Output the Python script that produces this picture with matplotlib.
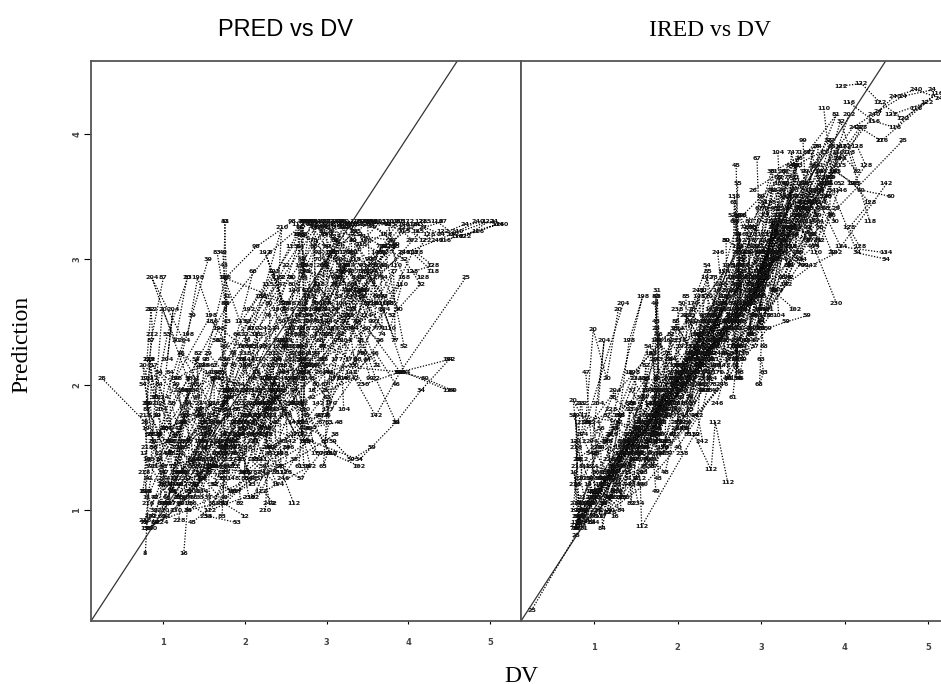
import matplotlib
matplotlib.use("Agg")
import matplotlib.pyplot as plt

# values, one row per subject
SUBJECT_IDS = [25, 8, 16, 240, 24, 60, 34, 102, 130, 230, 31, 45, 72, 118, 210, 22, 53, 87, 140, 190,
               12, 39, 66, 95, 112, 155, 202, 28, 47, 76, 124, 168, 215, 19, 58, 83, 136, 177, 221, 33,
               41, 69, 91, 108, 146, 185, 233, 14, 51, 79, 127, 160, 206, 36, 62, 98, 115, 172, 225, 27,
               11, 17, 23, 29, 35, 43, 49, 55, 61, 67, 73, 81, 89, 93, 99, 104, 110, 116, 122, 128,
               134, 142, 148, 154, 162, 170, 178, 186, 192, 198, 204, 212, 218, 224, 228, 234, 238, 242, 246, 13,
               15, 18, 21, 26, 30, 32, 37, 38, 40, 42, 44, 46, 48, 50, 52, 54, 56, 57, 59, 63,
               112, 20, 64, 65, 68, 70, 71, 74, 75, 77, 78, 80, 82, 84, 85, 86]
DV = [
    [0.25, 0.78, 1.10, 1.65, 2.40, 3.90, 4.70],
    [0.78, 0.82, 0.95, 1.30, 1.75, 2.30, 2.75],
    [1.25, 1.30, 1.45, 1.80, 2.15, 2.65, 3.05],
    [5.15, 4.85, 4.60, 4.35, 3.95, 3.30, 2.70],
    [5.05, 4.70, 4.40, 4.10, 3.70, 3.10, 2.50],
    [4.55, 4.20, 3.90, 3.50, 2.95, 2.40, 1.75],
    [4.50, 4.15, 3.85, 3.40, 2.80, 2.05, 1.30],
    [3.40, 3.05, 2.70, 2.25, 1.75, 1.20, 0.85],
    [3.05, 2.72, 2.45, 2.05, 1.60, 1.15, 0.80],
    [3.90, 3.45, 2.95, 2.72, 2.25, 1.75, 1.00],
    [1.75, 1.78, 1.72, 1.76, 1.40, 1.05, 0.80],
    [2.70, 2.72, 2.68, 2.75, 2.30, 1.85, 1.35],
    [2.35, 2.05, 1.78, 1.45, 1.15, 0.90, 0.76],
    [4.30, 4.05, 3.75, 3.35, 2.90, 2.72, 2.20],
    [2.25, 2.45, 2.10, 1.75, 1.50, 1.00, 0.85],
    [3.85, 3.60, 3.30, 3.15, 2.85, 2.50, 2.00],
    [1.30, 1.05, 0.90, 0.85, 1.20, 1.55, 1.90],
    [1.00, 0.85, 0.80, 1.10, 1.40, 1.75, 2.15],
    [3.60, 3.25, 2.90, 2.60, 2.20, 1.85, 1.45],
    [3.20, 3.00, 2.74, 2.40, 2.00, 1.62, 1.22],
    [0.85, 0.80, 0.95, 1.20, 1.50, 1.75, 2.00],
    [1.55, 1.35, 1.15, 0.95, 0.82, 0.78, 0.88],
    [2.10, 1.90, 1.78, 1.50, 1.25, 1.05, 0.90],
    [2.80, 2.72, 2.55, 2.30, 1.95, 1.60, 1.30],
    [2.65, 2.70, 2.40, 2.15, 1.80, 1.52, 1.15],
    [3.55, 3.35, 3.05, 2.78, 2.50, 2.20, 1.95],
    [4.05, 3.80, 3.52, 3.20, 2.95, 2.70, 2.35],
    [1.10, 1.25, 1.48, 1.74, 1.95, 2.30, 2.62],
    [0.90, 1.02, 1.18, 1.42, 1.76, 2.08, 2.45],
    [1.68, 1.76, 1.85, 2.02, 2.28, 2.55, 2.95],
    [2.95, 3.10, 3.28, 3.48, 2.72, 2.18, 1.58],
    [3.30, 3.50, 3.72, 3.95, 2.74, 2.05, 1.70],
    [4.20, 3.95, 3.65, 3.42, 3.12, 2.88, 2.60],
    [0.75, 0.80, 0.78, 0.82, 0.76, 0.84, 0.92],
    [1.15, 1.22, 1.10, 1.32, 1.05, 1.40, 1.48],
    [1.72, 1.74, 1.78, 1.80, 1.70, 1.76, 1.66],
    [2.72, 2.70, 2.74, 2.76, 2.68, 2.66, 2.78],
    [3.02, 3.12, 2.98, 3.22, 3.08, 2.92, 3.30],
    [2.20, 2.32, 2.10, 2.42, 2.00, 2.52, 1.92],
    [1.45, 1.58, 1.35, 1.65, 1.28, 1.82, 1.95],
    [3.70, 3.45, 3.18, 2.82, 2.48, 2.12, 1.82],
    [2.60, 2.35, 2.08, 1.76, 1.48, 1.22, 0.98],
    [3.00, 2.72, 2.40, 2.12, 1.88, 1.56, 1.20],
    [2.52, 2.76, 2.95, 3.15, 3.38, 2.70, 2.25],
    [3.95, 3.62, 3.38, 3.05, 2.72, 2.44, 2.02],
    [4.12, 3.88, 3.48, 3.08, 2.68, 2.28, 1.78],
    [3.22, 2.92, 2.62, 2.32, 2.02, 1.72, 1.42],
    [0.95, 1.12, 1.30, 1.55, 1.75, 2.02, 2.38],
    [0.80, 0.88, 1.00, 1.18, 1.38, 1.60, 1.85],
    [1.85, 1.62, 1.42, 1.20, 1.02, 0.86, 0.78],
    [2.40, 2.15, 1.92, 1.72, 1.52, 1.28, 1.08],
    [3.48, 3.18, 2.85, 2.72, 2.35, 2.02, 1.66],
    [2.85, 2.62, 2.38, 2.12, 1.90, 1.68, 1.38],
    [0.86, 1.00, 1.36, 1.78, 2.22, 2.72, 3.25],
    [1.06, 1.26, 1.62, 2.04, 2.46, 2.86, 3.42],
    [1.38, 1.52, 1.76, 2.14, 2.58, 2.96, 3.58],
    [1.95, 2.28, 2.58, 2.74, 3.04, 3.36, 3.78],
    [4.00, 3.78, 3.40, 3.02, 2.66, 2.30, 1.88],
    [3.76, 3.56, 3.26, 2.94, 2.56, 2.26, 1.74],
    [4.42, 4.18, 3.92, 3.62, 3.20, 2.78, 2.32],
    [0.80, 1.25, 0.90, 1.40, 1.05, 1.60],
    [0.76, 1.10, 1.50, 0.88, 1.30, 1.85],
    [0.84, 0.79, 1.18, 1.62, 1.35, 1.02],
    [0.92, 1.45, 1.15, 1.72, 2.05, 1.55],
    [1.38, 1.78, 1.22, 1.95, 1.60, 2.15],
    [1.76, 1.74, 1.78, 1.72, 1.75, 1.77],
    [1.73, 1.77, 1.75, 1.79, 1.71, 1.74],
    [2.72, 2.70, 2.74, 2.71, 2.69, 2.73],
    [2.68, 2.75, 2.71, 2.73, 2.70, 2.66],
    [2.95, 2.97, 2.93, 2.96, 2.98, 2.94],
    [2.70, 3.05, 3.40, 3.75, 3.20, 2.85],
    [2.80, 3.15, 3.55, 3.90, 3.35, 2.95],
    [2.65, 3.00, 3.32, 3.68, 3.85, 3.50],
    [2.75, 3.10, 2.90, 3.45, 3.70, 3.25],
    [3.50, 3.52, 3.48, 3.55, 3.46, 3.53],
    [3.20, 3.22, 3.18, 3.24, 3.19, 3.21],
    [3.75, 3.85, 3.60, 3.92, 3.78, 3.66],
    [4.05, 4.35, 4.60, 4.85, 5.10, 4.45],
    [3.95, 4.20, 4.42, 4.70, 4.98, 4.55],
    [4.15, 4.25, 4.10, 4.30, 4.05, 4.18],
    [4.50, 3.95, 3.70, 3.25, 2.85, 2.40],
    [4.50, 3.90, 3.60, 3.30, 2.90, 2.55],
    [1.85, 2.25, 1.65, 2.45, 2.05, 2.60],
    [2.00, 2.40, 1.82, 2.55, 2.15, 2.85],
    [2.30, 1.90, 2.60, 2.10, 2.80, 2.50],
    [2.18, 2.62, 2.35, 2.88, 2.48, 3.05],
    [2.50, 2.95, 2.25, 3.10, 2.65, 3.30],
    [1.98, 1.60, 2.32, 1.75, 2.55, 2.20],
    [2.05, 2.35, 2.58, 2.25, 2.75, 2.40],
    [1.30, 1.42, 1.58, 1.15, 1.48, 1.68],
    [1.05, 1.12, 0.98, 1.25, 0.86, 1.35],
    [0.85, 0.87, 0.83, 0.86, 0.84, 0.88],
    [0.78, 0.80, 0.77, 0.79, 0.81, 0.78],
    [1.00, 1.02, 0.98, 1.01, 1.03, 0.99],
    [1.20, 1.22, 1.18, 1.24, 1.21, 1.19],
    [1.50, 1.46, 1.52, 1.55, 1.48, 1.53],
    [2.00, 2.03, 1.97, 2.02, 1.99, 2.05],
    [2.25, 2.28, 2.22, 2.27, 2.24, 2.30],
    [2.48, 2.52, 2.46, 2.50, 2.53, 2.47],
    [1.60, 1.88, 1.42, 2.08, 1.70, 2.28],
    [1.12, 1.58, 0.94, 1.82, 1.28, 2.02],
    [3.05, 3.38, 2.82, 3.58, 3.15, 2.68],
    [3.28, 2.98, 3.42, 2.88, 3.62, 3.08],
    [2.90, 3.25, 3.65, 3.00, 3.45, 2.78],
    [3.88, 3.62, 3.35, 3.12, 2.86, 2.58],
    [3.40, 3.70, 3.95, 4.15, 3.80, 3.50],
    [1.55, 1.35, 1.72, 1.15, 1.90, 1.45],
    [0.90, 1.30, 1.68, 2.10, 2.60, 3.10],
    [0.82, 1.20, 1.60, 2.00, 2.45, 2.90],
    [1.10, 1.50, 1.95, 2.38, 2.82, 3.35],
    [1.40, 1.80, 2.20, 2.60, 3.00, 3.50],
    [2.10, 2.45, 2.85, 3.25, 3.60, 3.85],
    [1.00, 1.40, 1.85, 2.30, 2.75, 3.15],
    [1.65, 2.05, 2.45, 2.90, 3.30, 3.70],
    [2.65, 2.90, 3.15, 3.45, 3.72, 3.95],
    [0.75, 0.95, 1.25, 1.65, 1.95, 2.35],
    [0.88, 1.08, 1.32, 1.52, 1.82, 2.12],
    [1.62, 1.92, 2.18, 2.42, 2.68, 2.92],
    [3.55, 3.30, 3.08, 2.78, 2.52, 2.22],
    [3.00, 3.03, 2.98, 3.01, 2.96, 3.04],
    [2.60, 2.45, 2.40, 2.20, 1.57, 1.55],
    [1.29, 1.15, 0.99, 0.90, 0.75, 0.86],
    [2.68, 3.00, 3.35, 3.70, 3.10, 2.78],
    [2.85, 3.20, 3.55, 3.85, 3.42, 3.02],
    [3.15, 2.72, 3.62, 2.92, 3.28, 3.78],
    [2.75, 3.30, 3.80, 3.05, 3.48, 2.90],
    [3.45, 3.10, 2.80, 3.68, 3.22, 2.95],
    [3.00, 3.02, 3.34, 3.36, 3.66, 3.68],
    [2.85, 2.87, 3.12, 3.14, 3.40, 3.42],
    [3.58, 3.60, 3.82, 3.84, 3.30, 3.32],
    [1.85, 1.87, 2.15, 2.17, 2.42, 2.44],
    [2.58, 2.60, 2.85, 2.87, 2.30, 2.32],
    [1.42, 1.44, 1.62, 1.64, 1.92, 1.94],
    [1.08, 1.10, 1.30, 1.32, 0.95, 0.97],
    [2.10, 2.12, 2.36, 2.38, 1.98, 2.00],
    [0.82, 1.02, 1.24, 1.46, 1.68, 1.90],
    [2.02, 2.24, 2.46, 2.68, 2.90, 3.12],
    [3.22, 3.44, 3.66, 3.88, 4.02, 4.22],
]
PRED = [
    [2.05, 1.70, 1.45, 1.80, 2.20, 2.10, 2.85],
    [0.65, 1.15, 1.60, 2.05, 2.60, 3.05, 3.30],
    [0.65, 1.05, 1.40, 1.75, 2.10, 2.55, 3.05],
    [3.28, 3.30, 3.22, 3.15, 3.05, 2.70, 2.30],
    [3.30, 3.28, 3.20, 3.28, 3.10, 2.60, 2.10],
    [1.95, 2.05, 2.10, 2.45, 2.20, 1.90, 1.50],
    [2.20, 1.95, 1.70, 1.40, 1.55, 1.25, 1.00],
    [1.35, 1.45, 1.85, 2.05, 1.60, 1.30, 0.95],
    [1.45, 1.80, 2.35, 1.75, 1.35, 1.00, 0.85],
    [2.10, 2.00, 2.50, 2.90, 2.30, 1.50, 1.00],
    [3.30, 2.70, 2.10, 1.40, 1.20, 0.95, 0.85],
    [3.30, 2.85, 2.30, 1.75, 1.45, 1.15, 0.90],
    [1.05, 1.30, 1.75, 1.55, 1.25, 1.10, 0.90],
    [2.90, 3.05, 2.65, 3.00, 2.80, 2.45, 1.85],
    [1.00, 3.25, 2.45, 1.95, 1.70, 1.20, 0.85],
    [1.70, 2.05, 2.60, 3.00, 3.30, 2.95, 2.40],
    [2.85, 2.40, 1.90, 1.40, 1.10, 0.95, 0.90],
    [2.85, 2.35, 1.80, 1.45, 1.20, 1.05, 1.30],
    [3.30, 3.25, 3.30, 2.75, 2.30, 1.95, 1.55],
    [3.30, 3.20, 3.30, 2.60, 2.15, 1.70, 1.30],
    [2.60, 2.20, 1.85, 1.50, 1.25, 1.05, 0.95],
    [3.00, 2.55, 2.05, 1.60, 1.35, 1.15, 1.00],
    [2.90, 2.40, 1.90, 1.55, 1.30, 1.10, 0.90],
    [3.30, 2.95, 2.45, 2.05, 1.65, 1.40, 1.15],
    [3.28, 1.60, 2.85, 2.40, 1.95, 1.60, 1.25],
    [3.30, 3.22, 3.05, 2.70, 2.30, 1.95, 1.70],
    [3.15, 3.30, 3.28, 3.25, 2.95, 2.60, 2.25],
    [1.15, 1.50, 1.70, 1.30, 1.60, 1.95, 2.30],
    [1.10, 1.30, 1.65, 1.90, 2.15, 2.45, 2.80],
    [1.50, 1.95, 2.15, 2.35, 2.55, 2.85, 3.20],
    [3.30, 3.18, 2.95, 2.55, 2.15, 1.75, 1.35],
    [3.28, 3.30, 3.20, 2.85, 1.55, 1.70, 1.35],
    [3.30, 3.22, 3.30, 3.12, 2.80, 2.45, 2.20],
    [1.15, 1.40, 1.65, 1.85, 2.05, 2.20, 1.75],
    [1.30, 1.55, 1.85, 2.05, 1.05, 2.20, 1.65],
    [0.95, 1.25, 1.60, 1.95, 2.35, 2.65, 3.05],
    [1.35, 1.70, 2.10, 2.55, 2.95, 3.20, 3.30],
    [1.80, 2.20, 2.65, 3.05, 3.30, 2.40, 2.75],
    [1.40, 1.75, 1.55, 2.00, 1.30, 2.35, 1.60],
    [1.10, 1.75, 1.35, 2.10, 1.55, 1.90, 2.20],
    [2.95, 2.75, 2.40, 2.05, 1.80, 1.55, 1.35],
    [2.05, 1.85, 1.60, 1.45, 1.25, 1.05, 0.95],
    [2.55, 2.20, 1.95, 1.70, 1.55, 1.30, 1.05],
    [2.60, 2.95, 3.25, 3.30, 3.28, 2.65, 2.05],
    [3.28, 3.05, 2.85, 2.50, 2.20, 1.95, 1.60],
    [3.22, 3.30, 2.90, 2.45, 2.10, 1.80, 1.50],
    [2.95, 2.60, 2.25, 2.00, 1.75, 1.55, 1.30],
    [1.40, 1.15, 1.85, 2.10, 1.85, 2.15, 2.45],
    [1.85, 1.55, 1.30, 1.10, 1.20, 1.35, 1.50],
    [1.60, 1.35, 1.45, 1.30, 1.05, 0.95, 0.90],
    [2.30, 1.95, 1.70, 1.85, 1.50, 1.20, 1.05],
    [3.15, 2.90, 2.60, 2.25, 1.95, 1.65, 1.45],
    [2.75, 2.50, 2.20, 1.85, 1.70, 1.45, 1.15],
    [1.60, 1.20, 1.05, 2.20, 2.70, 3.30, 3.28],
    [1.45, 1.75, 2.15, 2.50, 2.85, 3.25, 3.30],
    [2.00, 2.20, 2.85, 3.10, 3.30, 3.26, 3.30],
    [2.50, 2.80, 3.10, 3.30, 3.25, 3.30, 3.28],
    [3.30, 3.10, 2.75, 2.40, 2.05, 1.75, 1.40],
    [3.10, 2.90, 2.55, 2.20, 1.85, 1.60, 1.30],
    [3.30, 3.25, 3.05, 2.85, 2.50, 2.15, 1.85],
    [1.10, 1.70, 1.35, 2.05, 1.55, 1.85],
    [1.45, 1.05, 1.60, 2.15, 1.25, 1.70],
    [2.20, 1.85, 1.20, 1.35, 1.95, 1.65],
    [1.75, 1.25, 2.00, 1.50, 1.85, 2.25],
    [1.10, 1.95, 2.25, 1.40, 1.05, 1.75],
    [3.30, 2.95, 2.50, 2.20, 1.80, 1.35],
    [3.05, 2.65, 2.30, 1.90, 1.55, 1.10],
    [3.30, 3.00, 2.60, 2.20, 1.85, 1.55],
    [3.25, 2.75, 2.40, 2.05, 1.70, 1.35],
    [3.30, 2.95, 2.60, 2.30, 2.00, 1.70],
    [3.30, 3.30, 3.30, 3.28, 3.30, 3.26],
    [3.28, 3.30, 3.26, 3.30, 3.05, 3.22],
    [3.20, 3.10, 3.15, 3.05, 3.12, 3.30],
    [2.90, 2.85, 3.05, 2.95, 2.70, 2.75],
    [3.30, 3.00, 2.75, 2.50, 2.25, 2.05],
    [3.28, 2.90, 2.65, 2.35, 2.05, 1.80],
    [3.30, 2.95, 2.65, 2.80, 2.45, 2.65],
    [3.28, 3.30, 3.18, 3.22, 3.28, 3.15],
    [3.25, 3.15, 3.22, 3.18, 3.30, 3.20],
    [3.30, 3.20, 3.05, 2.95, 2.90, 2.85],
    [1.95, 2.10, 2.60, 2.45, 2.15, 1.80],
    [2.20, 2.10, 1.75, 2.10, 1.85, 1.55],
    [1.25, 1.85, 2.10, 1.45, 2.20, 1.70],
    [1.75, 1.20, 1.55, 2.05, 1.40, 2.25],
    [1.50, 1.95, 1.85, 1.10, 1.35, 2.15],
    [2.20, 1.60, 1.95, 1.45, 2.35, 1.85],
    [1.30, 1.75, 1.65, 2.05, 2.45, 2.20],
    [2.30, 2.50, 1.80, 2.85, 2.65, 2.70],
    [2.60, 2.90, 2.40, 3.05, 2.15, 2.35],
    [2.40, 2.85, 2.55, 2.05, 2.15, 2.45],
    [2.20, 2.60, 1.80, 2.35, 2.85, 1.95],
    [2.60, 2.40, 2.20, 2.05, 1.85, 1.60],
    [1.75, 1.50, 1.30, 1.15, 1.05, 0.92],
    [1.90, 1.65, 1.45, 1.25, 1.05, 0.90],
    [1.95, 1.70, 1.50, 1.30, 1.10, 0.92],
    [2.15, 1.85, 1.60, 1.35, 1.15, 0.95],
    [2.25, 1.95, 1.70, 1.50, 1.30, 1.10],
    [2.45, 2.15, 1.85, 1.60, 1.30, 1.05],
    [2.65, 2.30, 2.05, 1.75, 1.50, 1.25],
    [1.55, 1.35, 1.80, 1.20, 2.05, 1.65],
    [1.35, 1.85, 1.60, 1.15, 1.75, 1.95],
    [2.45, 2.20, 1.95, 2.65, 2.85, 2.10],
    [2.55, 1.95, 2.35, 2.80, 2.15, 3.05],
    [2.10, 2.55, 2.35, 1.75, 2.70, 2.50],
    [2.60, 2.95, 2.15, 3.15, 2.65, 2.85],
    [3.20, 3.10, 3.00, 2.80, 2.55, 2.65],
    [1.10, 1.40, 1.25, 1.60, 1.50, 1.80],
    [0.90, 1.00, 1.05, 1.25, 1.40, 1.60],
    [1.25, 1.20, 1.35, 1.30, 1.55, 1.75],
    [1.55, 1.50, 1.60, 1.70, 1.90, 2.05],
    [1.75, 1.80, 1.85, 1.95, 2.10, 2.20],
    [2.05, 2.10, 2.15, 2.05, 2.25, 2.00],
    [1.35, 1.40, 1.45, 1.50, 1.65, 1.70],
    [2.35, 2.30, 2.50, 2.65, 2.80, 2.95],
    [2.40, 2.60, 2.70, 2.85, 3.05, 2.30],
    [2.00, 2.10, 1.95, 2.05, 2.00, 1.90],
    [1.50, 1.55, 1.55, 1.65, 1.55, 1.60],
    [1.20, 1.15, 1.25, 1.35, 1.25, 1.45],
    [1.50, 1.40, 1.55, 1.65, 1.50, 1.35],
    [1.90, 1.70, 1.55, 1.45, 1.35, 2.10],
    [1.05, 1.30, 1.45, 1.15, 1.00, 1.40],
    [2.85, 2.35, 2.60, 1.90, 2.15, 1.55],
    [3.10, 2.60, 2.45, 2.85, 3.15, 2.55],
    [3.30, 3.25, 2.95, 3.10, 2.75, 2.40],
    [2.85, 3.20, 2.70, 2.35, 3.05, 2.65],
    [2.50, 2.90, 3.15, 3.22, 2.65, 3.00],
    [3.18, 2.80, 3.28, 2.45, 2.95, 2.30],
    [3.30, 2.65, 3.22, 2.50, 3.10, 2.40],
    [3.15, 2.50, 3.05, 2.35, 2.90, 2.25],
    [3.00, 2.45, 2.90, 2.35, 3.25, 2.60],
    [2.25, 1.45, 2.40, 1.60, 2.15, 1.35],
    [2.80, 1.85, 3.10, 2.00, 2.65, 1.50],
    [2.25, 1.35, 2.05, 1.20, 1.85, 1.05],
    [2.10, 1.20, 1.95, 1.10, 2.00, 1.05],
    [2.30, 1.40, 2.05, 1.30, 2.20, 1.25],
    [1.60, 1.65, 1.70, 1.75, 1.70, 1.80],
    [1.85, 1.90, 1.80, 1.95, 2.00, 1.85],
    [3.30, 3.28, 3.30, 3.26, 3.30, 3.28],
]
IRED = [
    [0.20, 0.80, 1.05, 1.60, 2.30, 3.40, 3.95],
    [0.85, 1.00, 1.25, 1.55, 2.05, 2.50, 2.95],
    [0.95, 1.10, 1.40, 1.80, 2.20, 2.60, 3.05],
    [4.28, 4.35, 4.30, 4.15, 3.80, 3.30, 2.75],
    [4.35, 4.30, 4.18, 4.05, 3.70, 3.05, 2.60],
    [3.50, 3.55, 3.70, 3.30, 2.70, 2.35, 1.85],
    [3.00, 3.05, 3.55, 3.20, 2.60, 2.00, 1.40],
    [2.60, 2.80, 2.45, 2.20, 1.80, 1.25, 0.95],
    [2.85, 2.55, 2.30, 1.95, 1.70, 1.30, 0.90],
    [2.65, 3.40, 2.85, 2.20, 2.40, 1.95, 1.10],
    [2.75, 2.30, 1.70, 1.45, 1.25, 1.00, 0.85],
    [3.75, 3.20, 2.35, 2.05, 2.15, 1.80, 1.45],
    [2.10, 2.00, 1.80, 1.55, 1.25, 1.05, 0.85],
    [3.30, 3.85, 3.60, 3.10, 2.85, 3.10, 2.30],
    [2.20, 2.35, 2.05, 1.85, 1.60, 1.15, 1.00],
    [3.05, 3.45, 3.20, 3.00, 2.80, 2.40, 2.15],
    [1.45, 1.10, 1.00, 0.90, 1.30, 1.60, 1.90],
    [1.05, 0.95, 0.85, 1.20, 1.50, 1.85, 2.20],
    [3.55, 3.10, 2.70, 2.45, 2.10, 1.80, 1.45],
    [3.20, 3.05, 3.35, 2.55, 2.05, 1.65, 1.35],
    [1.05, 0.90, 1.10, 1.30, 1.55, 1.95, 2.05],
    [1.90, 1.35, 1.25, 1.05, 0.95, 0.85, 1.00],
    [2.10, 1.85, 2.40, 1.65, 1.30, 1.15, 1.05],
    [3.05, 2.55, 2.65, 2.25, 2.00, 1.70, 1.40],
    [2.50, 2.30, 2.55, 2.05, 1.85, 1.60, 1.25],
    [3.60, 3.25, 2.95, 2.85, 2.65, 2.25, 2.05],
    [4.15, 3.65, 3.50, 3.35, 3.10, 2.80, 2.50],
    [1.25, 1.35, 1.50, 2.45, 2.00, 2.15, 2.55],
    [2.10, 1.10, 1.30, 1.60, 1.75, 2.00, 2.35],
    [1.60, 1.75, 1.80, 1.95, 2.25, 2.65, 2.90],
    [2.80, 3.05, 3.50, 3.60, 2.55, 2.25, 1.50],
    [3.15, 3.40, 3.70, 3.90, 2.50, 2.10, 1.75],
    [4.05, 3.75, 3.55, 3.35, 3.00, 2.75, 2.50],
    [1.00, 1.40, 1.75, 0.95, 1.30, 1.00, 1.20],
    [1.55, 1.30, 1.05, 1.75, 1.25, 1.60, 1.45],
    [1.75, 2.70, 1.95, 1.60, 2.25, 1.55, 1.70],
    [2.30, 2.05, 3.20, 2.60, 3.50, 2.85, 2.25],
    [3.05, 3.20, 2.60, 3.35, 2.90, 2.70, 3.10],
    [2.30, 2.05, 2.55, 2.20, 1.70, 2.60, 1.85],
    [1.35, 1.60, 1.55, 1.85, 1.20, 1.90, 2.15],
    [3.75, 3.35, 3.05, 2.95, 2.35, 2.20, 1.70],
    [2.45, 2.25, 2.00, 1.65, 1.40, 1.30, 1.05],
    [2.95, 2.30, 2.50, 2.20, 1.75, 1.45, 1.10],
    [2.35, 2.90, 2.75, 3.25, 3.50, 2.50, 2.30],
    [3.55, 3.45, 3.20, 3.15, 2.95, 2.50, 2.15],
    [3.60, 3.70, 3.40, 3.05, 2.85, 2.15, 1.85],
    [3.30, 2.75, 2.50, 2.45, 2.15, 1.75, 1.55],
    [1.15, 1.05, 1.45, 1.45, 1.60, 2.05, 2.25],
    [0.95, 0.85, 1.15, 1.10, 1.55, 1.50, 1.75],
    [1.95, 1.50, 1.55, 1.10, 1.15, 0.95, 0.85],
    [2.25, 2.05, 1.75, 1.85, 1.40, 1.35, 1.20],
    [3.35, 3.05, 2.65, 2.95, 2.20, 2.10, 1.55],
    [2.70, 2.75, 2.20, 2.00, 2.05, 1.55, 1.45],
    [1.00, 0.95, 1.50, 1.70, 2.40, 2.55, 3.15],
    [1.25, 1.40, 1.75, 1.90, 2.30, 2.65, 3.35],
    [1.50, 1.70, 1.65, 2.25, 2.35, 3.05, 3.45],
    [1.85, 2.40, 2.70, 2.60, 2.85, 3.25, 3.60],
    [3.90, 3.60, 3.25, 3.20, 2.55, 2.40, 1.95],
    [3.65, 3.45, 3.40, 2.85, 2.70, 2.10, 1.60],
    [3.95, 4.05, 3.80, 3.45, 3.05, 2.65, 2.20],
    [1.20, 1.65, 1.35, 1.30, 0.95, 1.95],
    [1.55, 0.95, 1.25, 1.75, 1.70, 1.55],
    [1.85, 1.40, 1.60, 2.05, 1.10, 1.45],
    [1.70, 1.85, 0.98, 2.20, 1.70, 1.30],
    [1.10, 1.60, 1.90, 2.45, 1.35, 1.80],
    [2.70, 2.50, 2.20, 1.90, 1.55, 1.25],
    [2.65, 2.35, 2.05, 1.75, 1.40, 1.15],
    [3.60, 3.30, 3.00, 2.65, 2.30, 2.05],
    [3.45, 3.10, 2.80, 2.45, 2.15, 1.90],
    [3.80, 3.40, 3.15, 2.85, 2.60, 2.35],
    [3.05, 3.35, 3.55, 3.85, 3.15, 2.80],
    [2.85, 3.70, 3.85, 4.15, 3.25, 3.10],
    [2.65, 3.50, 2.95, 3.35, 3.65, 3.40],
    [2.50, 3.00, 3.25, 3.75, 3.40, 2.85],
    [3.95, 3.70, 3.45, 3.25, 3.05, 2.95],
    [3.85, 3.60, 3.30, 3.00, 2.75, 2.55],
    [4.20, 3.60, 3.30, 3.85, 3.50, 3.05],
    [4.25, 4.10, 4.05, 4.20, 4.32, 3.95],
    [4.38, 4.40, 4.25, 4.12, 4.25, 4.15],
    [3.90, 3.75, 3.60, 3.45, 3.25, 3.10],
    [3.05, 3.10, 3.45, 3.05, 2.75, 2.30],
    [3.60, 3.05, 2.95, 2.80, 2.45, 2.15],
    [1.55, 2.70, 1.95, 2.15, 1.65, 2.95],
    [2.45, 2.05, 1.50, 2.90, 2.50, 2.35],
    [2.00, 2.35, 2.45, 1.85, 3.05, 2.75],
    [2.65, 2.20, 2.70, 3.20, 2.10, 2.55],
    [2.50, 2.70, 2.35, 3.45, 2.30, 2.85],
    [1.80, 2.05, 1.95, 2.35, 2.60, 2.20],
    [2.30, 2.85, 2.25, 2.15, 3.15, 2.60],
    [1.75, 2.35, 2.70, 1.55, 2.10, 2.25],
    [1.85, 2.35, 1.55, 1.95, 1.60, 2.65],
    [1.85, 1.70, 1.55, 1.40, 1.25, 1.10],
    [1.50, 1.35, 1.20, 1.05, 0.95, 0.88],
    [1.70, 1.50, 1.35, 1.15, 1.00, 0.90],
    [1.80, 1.60, 1.40, 1.25, 1.10, 0.98],
    [2.05, 1.80, 1.55, 1.40, 1.20, 1.05],
    [2.60, 2.35, 2.05, 1.85, 1.65, 1.45],
    [2.75, 2.50, 2.25, 2.00, 1.75, 1.55],
    [3.05, 2.80, 2.55, 2.25, 2.00, 1.85],
    [1.30, 1.55, 2.10, 1.75, 1.85, 2.35],
    [1.25, 1.45, 1.05, 1.70, 1.50, 2.15],
    [2.60, 3.10, 2.65, 3.40, 3.55, 2.20],
    [3.25, 2.90, 3.65, 2.40, 3.20, 3.30],
    [3.55, 3.70, 3.90, 2.45, 3.80, 3.35],
    [3.30, 3.75, 2.95, 3.70, 3.05, 3.15],
    [3.50, 3.55, 4.10, 3.70, 3.95, 3.60],
    [1.20, 1.45, 1.35, 1.75, 1.45, 1.95],
    [0.92, 1.15, 1.35, 1.65, 2.05, 2.55],
    [0.95, 1.00, 1.20, 1.50, 1.95, 2.40],
    [1.30, 1.65, 1.60, 2.10, 2.35, 2.85],
    [1.20, 1.45, 1.75, 2.05, 2.50, 3.00],
    [2.55, 2.15, 2.45, 3.55, 3.10, 3.35],
    [1.45, 1.55, 1.30, 2.55, 2.10, 3.40],
    [1.70, 2.65, 2.35, 2.55, 3.60, 3.25],
    [3.35, 2.65, 3.25, 3.00, 3.15, 3.60],
    [1.75, 1.45, 1.65, 2.30, 2.20, 2.95],
    [1.00, 1.65, 1.10, 1.65, 1.45, 1.70],
    [1.90, 2.10, 1.85, 2.25, 2.25, 2.30],
    [2.55, 2.50, 2.45, 2.20, 2.40, 1.60],
    [2.20, 2.10, 2.00, 2.45, 2.55, 2.30],
    [1.22, 1.70, 1.32, 1.60, 0.87, 1.25],
    [2.60, 2.05, 2.44, 1.70, 1.87, 1.25],
    [3.30, 2.60, 3.75, 3.30, 2.95, 2.30],
    [3.25, 3.65, 3.15, 3.90, 3.75, 2.70],
    [2.75, 3.35, 3.20, 2.55, 3.70, 3.40],
    [2.35, 3.60, 3.50, 3.40, 2.95, 3.25],
    [3.85, 2.60, 3.25, 3.15, 3.65, 2.45],
    [2.45, 3.45, 2.95, 3.85, 3.10, 3.90],
    [3.10, 2.40, 3.55, 2.75, 3.75, 3.05],
    [3.15, 3.85, 3.35, 3.95, 2.80, 3.65],
    [1.50, 2.25, 1.90, 2.60, 2.00, 2.85],
    [3.15, 2.05, 3.30, 2.40, 2.75, 1.95],
    [1.85, 1.05, 2.15, 1.40, 2.40, 1.60],
    [1.50, 0.85, 1.75, 1.00, 1.25, 0.90],
    [2.70, 1.60, 2.90, 1.95, 2.50, 1.70],
    [1.05, 1.30, 1.15, 1.85, 1.45, 2.20],
    [1.65, 2.75, 2.05, 3.15, 2.35, 3.55],
    [3.45, 3.05, 3.95, 4.25, 3.60, 4.00],
]
PANEL_TITLES = ["PRED vs DV", "IRED vs DV"]
X_TICKS = [1, 2, 3, 4, 5]
Y_TICKS = [1, 2, 3, 4]
LEFT_REF_X, LEFT_REF_Y = [0.115, 4.6], [0.115, 4.58]
RIGHT_REF_X, RIGHT_REF_Y = [0.125, 4.49], [0.115, 4.58]

W, H = 941, 684
fig = plt.figure(figsize=(W / 100, H / 100), dpi=100)
ax1 = fig.add_axes([91 / W, 1 - 621 / H, 430 / W, 560 / H])
ax2 = fig.add_axes([521 / W, 1 - 621 / H, 439 / W, 560 / H])  # runs off the right edge like the original


def draw_panel(ax, pred, ref_x, ref_y):
    ax.plot(ref_x, ref_y, color="#333333", lw=0.9)
    for sid, xs, ys in zip(SUBJECT_IDS, DV, pred):
        ax.plot(xs, ys, color="black", lw=0.9, ls=(0, (1.0, 1.3)))
        for x, y in zip(xs, ys):
            ax.text(x, y, str(sid), fontsize=4.6, ha="center", va="center", fontweight="bold",
                    family="DejaVu Sans", color="#111111", clip_on=True)
    ax.set_xticks(X_TICKS)
    ax.set_yticks(Y_TICKS)
    ax.set_ylim(0.115, 4.58)
    ax.tick_params(axis="x", length=2, width=0.8, labelsize=6, pad=10, labelcolor="#444444")
    ax.tick_params(axis="y", length=5, width=0.8, labelsize=6, pad=2, labelcolor="#444444",
                   labelrotation=90)
    for lab in ax.get_xticklabels() + ax.get_yticklabels():
        lab.set_family("DejaVu Sans")
        lab.set_fontweight("bold")
    for lab in ax.get_yticklabels():
        lab.set_verticalalignment("center")
    for s in ax.spines.values():
        s.set_linewidth(1.3)
        s.set_color("#555555")


draw_panel(ax1, PRED, LEFT_REF_X, LEFT_REF_Y)
ax1.set_xlim(0.115, 5.38)
draw_panel(ax2, IRED, RIGHT_REF_X, RIGHT_REF_Y)
ax2.set_xlim(0.125, 5.38)
ax2.tick_params(axis="y", left=False, labelleft=False)
ax2.tick_params(axis="x", pad=14)

fig.text(285 / W, 1 - 30 / H, PANEL_TITLES[0], family="Liberation Sans", fontsize=17,
         ha="center", va="center")
fig.text(710 / W, 1 - 30 / H, PANEL_TITLES[1], family="Liberation Serif", fontsize=17,
         ha="center", va="center")
fig.text(521 / W, 1 - 676 / H, "DV", family="Liberation Serif", fontsize=17, ha="center", va="center")
fig.text(22 / W, 1 - 344 / H, "Prediction", family="Liberation Serif", fontsize=17,
         rotation=90, ha="center", va="center")

fig.savefig("out.png", dpi=100)
